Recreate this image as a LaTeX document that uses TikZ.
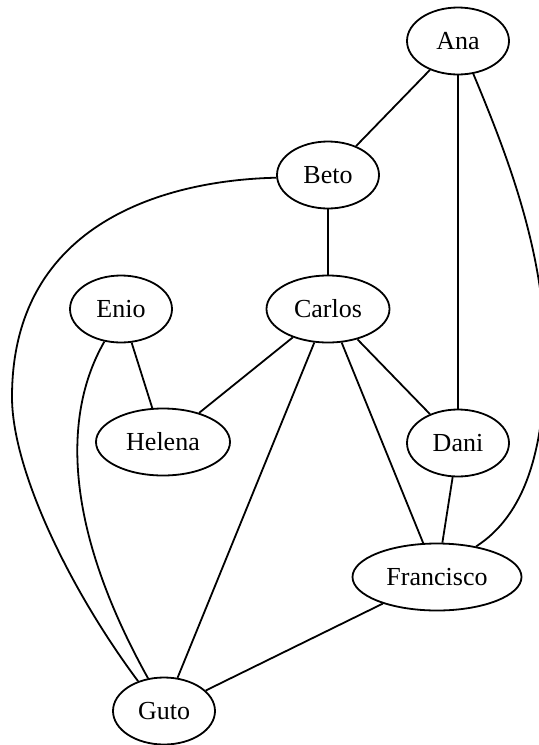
\documentclass[tikz,border=0pt]{standalone}
\usepackage{fontspec}
\setmainfont{Liberation Serif}
\usetikzlibrary{shapes.geometric}
\begin{document}
\begin{tikzpicture}[x=0.5pt,y=-0.5pt,
  person/.style={ellipse,draw,line width=0.9pt,inner sep=0pt,
    minimum height=33.5pt,minimum width=51pt,
    font=\fontsize{13}{15}\selectfont},
  tie/.style={line width=0.9pt}]
\useasboundingbox (0,0) rectangle (539,745);

% people
\node[person] (ana) at (458,41) {Ana};
\node[person] (beto) at (328,175) {Beto};
\node[person] (enio) at (121,309) {Enio};
\node[person,minimum width=61.5pt] (carlos) at (328,309) {Carlos};
\node[person,minimum width=67pt] (helena) at (163,442) {Helena};
\node[person] (dani) at (458,443) {Dani};
\node[person,minimum width=84.5pt] (francisco) at (437,577) {Francisco};
\node[person] (guto) at (164,711) {Guto};

% straight ties
\draw[tie] (ana) -- (beto);
\draw[tie] (ana) -- (dani);
\draw[tie] (beto) -- (carlos);
\draw[tie] (enio) -- (helena);
\draw[tie] (carlos) -- (helena);
\draw[tie] (carlos) -- (guto);
\draw[tie] (carlos) -- (dani);
\draw[tie] (carlos) -- (francisco);
\draw[tie] (dani) -- (francisco);
\draw[tie] (francisco) -- (guto);

% curved ties
\draw[tie] (ana.-65) .. controls (505,150) and (545,250) .. (545,355)
  .. controls (545,450) and (525,515) .. (francisco.38);
\draw[tie] (beto.183) .. controls (170,180) and (12,220) .. (12,397)
  .. controls (12,470) and (70,590) .. (guto.131);
\draw[tie] (enio.-117) .. controls (65,410) and (60,520) .. (guto.116);
\end{tikzpicture}
\end{document}
